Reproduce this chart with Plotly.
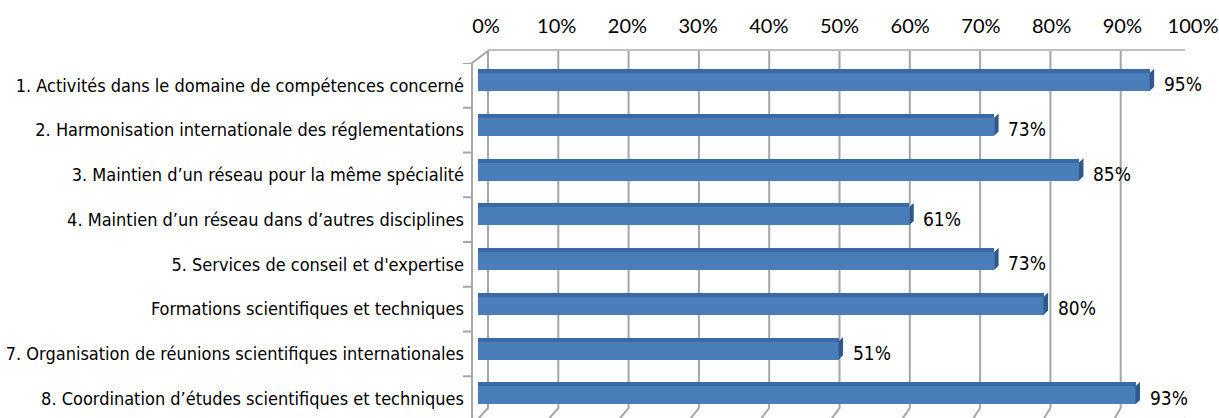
import plotly.graph_objects as go

categories = [
    "1. Activités dans le domaine de compétences concerné",
    "2. Harmonisation internationale des réglementations",
    "3. Maintien d\u2019un réseau pour la même spécialité",
    "4. Maintien d\u2019un réseau dans d\u2019autres disciplines",
    "5. Services de conseil et d'expertise",
    "Formations scientifiques et techniques",
    "7. Organisation de réunions scientifiques internationales",
    "8. Coordination d\u2019études scientifiques et techniques",
]
values = [0.95, 0.73, 0.85, 0.61, 0.73, 0.80, 0.51, 0.93]
tick_values = [0, 0.1, 0.2, 0.3, 0.4, 0.5, 0.6, 0.7, 0.8, 0.9, 1.0]
tick_labels = ["0%", "10%", "20%", "30%", "40%", "50%", "60%", "70%", "80%", "90%", "100%"]

idx = list(range(len(categories)))
COND = "Liberation Sans Narrow, DejaVu Sans Condensed, Arial Narrow, sans-serif"
FRONT = "#4A7EBB"
TOP = "#3A6AA3"
CAP = "#2E5A90"
GRID = "#A6A6A6"

BAND = 44.75
fig = go.Figure()
# top face (darker strip)
fig.add_trace(go.Bar(
    x=values, y=idx, orientation="h", marker=dict(color=TOP, line=dict(width=0)),
    offset=-0.5 + 6 / BAND, width=4.5 / BAND, hoverinfo="skip", showlegend=False,
))
# front face
fig.add_trace(go.Bar(
    x=values, y=idx, orientation="h", marker=dict(color=FRONT, line=dict(width=0)),
    offset=-0.5 + 10 / BAND, width=18 / BAND, showlegend=False,
))

shapes = []
# back gridlines with floor diagonal
for t in tick_values:
    dx = 10 - 4 * t
    shapes.append(dict(
        type="path", xref="x", yref="paper", xsizemode="pixel", ysizemode="pixel",
        xanchor=t, yanchor=1,
        path=f"M{dx},13 L{dx},-345 L0,-356",
        line=dict(color=GRID, width=2), layer="below",
    ))
# top back edge
shapes.append(dict(
    type="path", xref="x", yref="paper", xsizemode="pixel", ysizemode="pixel",
    xanchor=0, yanchor=1, path="M10,13 L713,13",
    line=dict(color="#BFBFBF", width=2), layer="below",
))
# left wall
shapes.append(dict(
    type="path", xref="paper", yref="paper", xsizemode="pixel", ysizemode="pixel",
    xanchor=0, yanchor=1, path="M10,12 L-6,0 L-6,-360",
    line=dict(color=GRID, width=2), layer="below",
))
# category tick marks
for i in idx + [len(idx)]:
    shapes.append(dict(
        type="line", xref="paper", yref="y", xsizemode="pixel",
        xanchor=0, x0=-15, x1=-6, y0=i - 0.5, y1=i - 0.5,
        line=dict(color=GRID, width=2),
    ))
# bar end caps
for i, v in zip(idx, values):
    shapes.append(dict(
        type="path", xref="x", yref="y", xsizemode="pixel", ysizemode="pixel",
        xanchor=v, yanchor=i,
        path="M0,12.4 L4.5,16.6 L4.5,-1.4 L0,-5.6 Z",
        fillcolor=CAP, line=dict(width=0),
    ))

annotations = []
for i, v in zip(idx, values):
    annotations.append(dict(
        x=v, y=i, xref="x", yref="y", text=f"{round(v*100)}%", showarrow=False,
        xanchor="left", yanchor="middle", xshift=12, yshift=1,
        font=dict(family=COND, size=19, color="black"),
    ))

fig.update_layout(
    width=1219, height=418,
    margin=dict(l=478, r=34, t=63, b=0, autoexpand=False),
    paper_bgcolor="white", plot_bgcolor="white",
    barmode="overlay", bargap=0,
    shapes=shapes, annotations=annotations,
    xaxis=dict(
        range=[0, 1], side="top", tickvals=tick_values, ticktext=tick_labels,
        showgrid=False, zeroline=False, showline=False, ticks="",
        tickfont=dict(family="Lato, sans-serif", size=20, color="black"),
        ticklabelshift=8, ticklabelstandoff=25, automargin=False,
    ),
    yaxis=dict(
        range=[7.5 - 3 / BAND, -0.5], tickvals=idx, ticktext=categories,
        showgrid=False, zeroline=False, showline=False, ticks="",
        tickfont=dict(family=COND, size=18, color="black"),
        ticklabelstandoff=13, automargin=False,
    ),
)

fig.write_html("out.html")
